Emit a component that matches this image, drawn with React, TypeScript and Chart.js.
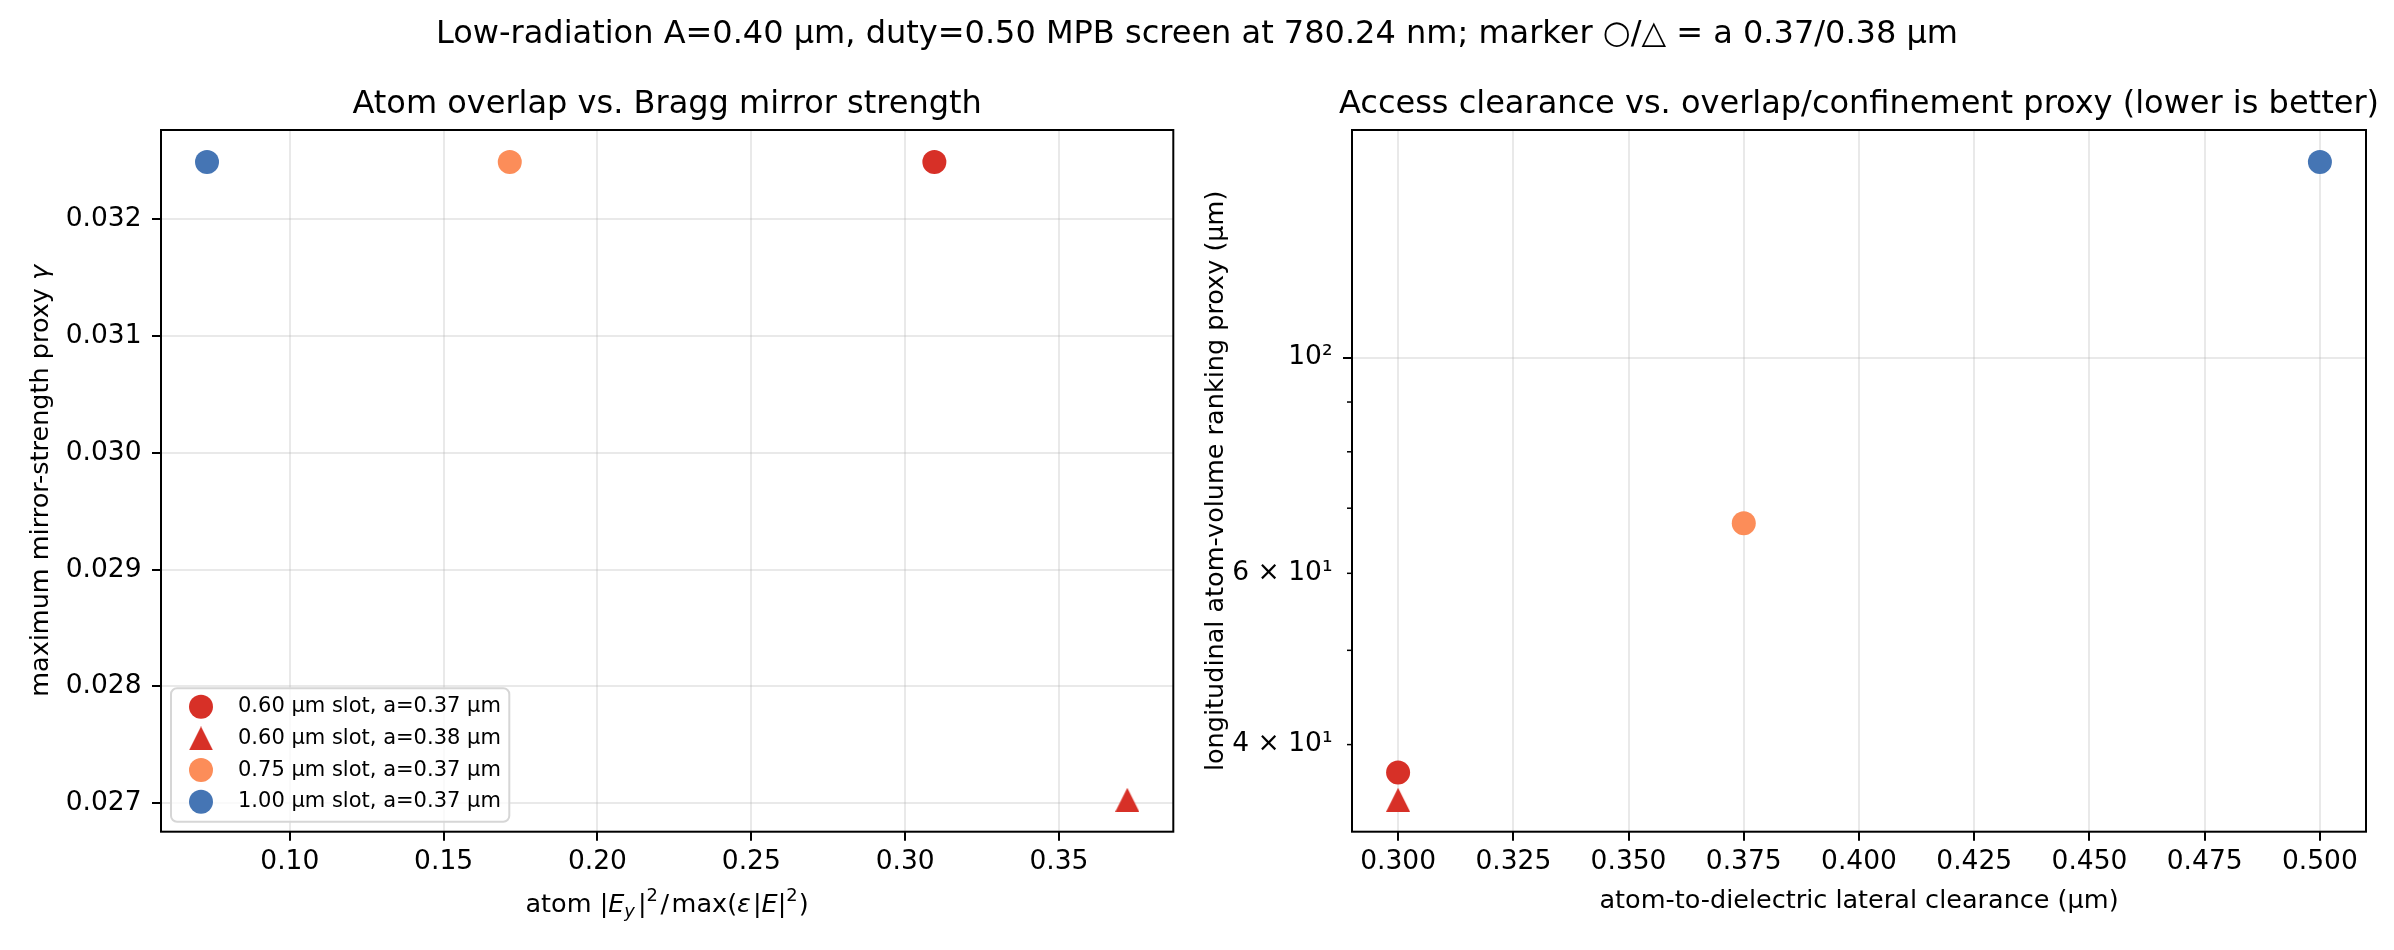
import React, { useEffect, useRef } from 'react';
import { Chart, registerables } from 'chart.js';

Chart.register(...registerables);

const FONT = "'DejaVu Sans', 'Noto Sans', sans-serif";

// ---------------- data ----------------
const seriesLabels = [
  '0.60 µm slot, a=0.37 µm',
  '0.60 µm slot, a=0.38 µm',
  '0.75 µm slot, a=0.37 µm',
  '1.00 µm slot, a=0.37 µm',
];
const seriesMarkers = ['circle', 'triangle', 'circle', 'circle'];

// left panel
const atomOverlap = [0.3095, 0.3722, 0.1715, 0.0731];
const mirrorStrength = [0.03249, 0.02703, 0.03249, 0.03249];

// right panel
const lateralClearance = [0.3, 0.3, 0.375, 0.5];
const volumeProxy = [37.45, 35.1, 67.55, 158.9];

// ticks
const overlapTicks = [0.1, 0.15, 0.2, 0.25, 0.3, 0.35];
const mirrorTicks = [0.027, 0.028, 0.029, 0.03, 0.031, 0.032];
const clearanceTicks = [0.3, 0.325, 0.35, 0.375, 0.4, 0.425, 0.45, 0.475, 0.5];
const volumeMajorTicks = [100];
const volumeMinorTicks = [40, 50, 60, 70, 80, 90];
const volumeTickLabels: Record<number, string> = { 40: '4 × 10¹', 60: '6 × 10¹', 100: '10²' };

// ---------------- styles ----------------
const seriesColors = ['#d73027', '#d73027', '#fc8d59', '#4575b4'];
const GRID = 'rgba(176,176,176,0.28)';
const TICK_SIZE = 26.5;
const LABEL_SIZE = 25.5;
const TITLE_SIZE = 32;
const LEGEND_SIZE = 21;
const MARKER = 24;

function linPad(vals: number[]): [number, number] {
  const lo = Math.min(...vals);
  const hi = Math.max(...vals);
  const d = (hi - lo) * 0.05;
  return [lo - d, hi + d];
}
function logPad(vals: number[]): [number, number] {
  const l = vals.map((v) => Math.log10(v));
  const lo = Math.min(...l);
  const hi = Math.max(...l);
  const d = (hi - lo) * 0.05;
  return [Math.pow(10, lo - d), Math.pow(10, hi + d)];
}

const triCache: Record<string, HTMLCanvasElement> = {};
function triangleImage(color: string): HTMLCanvasElement {
  if (triCache[color]) return triCache[color];
  const c = document.createElement('canvas');
  c.width = MARKER;
  c.height = MARKER;
  const g = c.getContext('2d')!;
  g.fillStyle = color;
  g.beginPath();
  g.moveTo(MARKER / 2, 0);
  g.lineTo(MARKER, MARKER);
  g.lineTo(0, MARKER);
  g.closePath();
  g.fill();
  triCache[color] = c;
  return c;
}

type Seg = { t: string; it?: boolean; s?: number; dy?: number; gap?: number };
function segFont(sg: Seg, size: number) {
  return `${sg.it ? 'italic ' : ''}${(size * (sg.s ?? 1)).toFixed(2)}px ${FONT}`;
}
function drawRich(ctx: CanvasRenderingContext2D, segs: Seg[], x: number, y: number, size: number, align = 'center') {
  ctx.save();
  ctx.textBaseline = 'alphabetic';
  ctx.textAlign = 'left';
  ctx.fillStyle = '#000';
  const ws = segs.map((sg) => {
    ctx.font = segFont(sg, size);
    return ctx.measureText(sg.t).width + (sg.gap ?? 0) * size;
  });
  const total = ws.reduce((a, b) => a + b, 0);
  let cx = align === 'center' ? x - total / 2 : align === 'right' ? x - total : x;
  segs.forEach((sg, i) => {
    ctx.font = segFont(sg, size);
    ctx.fillText(sg.t, cx, y + (sg.dy ?? 0) * size);
    cx += ws[i];
  });
  ctx.restore();
}
function drawRotated(ctx: CanvasRenderingContext2D, segs: Seg[], x: number, cy: number, size: number) {
  ctx.save();
  ctx.translate(x, cy);
  ctx.rotate(-Math.PI / 2);
  drawRich(ctx, segs, 0, 0, size, 'center');
  ctx.restore();
}

function makeDatasets(xs: number[], ys: number[]) {
  return seriesLabels.map((label, i) => ({
    label,
    data: [{ x: xs[i], y: ys[i] }],
    pointStyle: seriesMarkers[i] === 'triangle' ? triangleImage(seriesColors[i]) : 'circle',
    pointRadius: MARKER / 2,
    backgroundColor: seriesColors[i],
    borderColor: seriesColors[i],
    pointBorderWidth: 0,
    borderWidth: 0,
    showLine: false,
  }));
}

const framePlugin = {
  id: 'frame',
  afterDatasetsDraw(chart: any) {
    const { ctx, chartArea: a } = chart;
    ctx.save();
    ctx.strokeStyle = '#000';
    ctx.lineWidth = 2;
    ctx.strokeRect(a.left, a.top, a.right - a.left, a.bottom - a.top);
    ctx.restore();
  },
};

const leftDecor = {
  id: 'leftDecor',
  afterDraw(chart: any) {
    const { ctx, chartArea: a } = chart;
    const cx = (a.left + a.right) / 2;
    // suptitle
    drawRich(
      ctx,
      [{ t: 'Low-radiation A=0.40 µm, duty=0.50 MPB screen at 780.24 nm; marker ○/△ = a 0.37/0.38 µm' }],
      1197,
      43.3,
      TITLE_SIZE,
    );
    drawRich(ctx, [{ t: 'Atom overlap vs. Bragg mirror strength' }], cx, 113.3, TITLE_SIZE);
    drawRich(
      ctx,
      [
        { t: 'atom ' },
        { t: '|' },
        { t: 'E', it: true },
        { t: 'y', it: true, s: 0.7, dy: 0.2, gap: 0.12 },
        { t: '|' },
        { t: '2', s: 0.7, dy: -0.42, gap: 0.1 },
        { t: '/', gap: 0.1 },
        { t: 'max(' },
        { t: 'ε', it: true, gap: 0.08 },
        { t: '|' },
        { t: 'E', it: true },
        { t: '|' },
        { t: '2', s: 0.7, dy: -0.42, gap: 0.05 },
        { t: ')' },
      ],
      cx,
      911.5,
      LABEL_SIZE,
    );
    drawRotated(
      ctx,
      [{ t: 'maximum mirror-strength proxy ' }, { t: 'γ', it: true }],
      48,
      (a.top + a.bottom) / 2,
      LABEL_SIZE,
    );
    // legend
    const lg = { x: 171, y: 688.3, w: 338.3, h: 133.4, r: 6, mx: 201, tx: 238, ry: 706.7, dy: 31.7 };
    ctx.save();
    ctx.beginPath();
    ctx.roundRect(lg.x, lg.y, lg.w, lg.h, lg.r);
    ctx.fillStyle = 'rgba(255,255,255,0.8)';
    ctx.fill();
    ctx.strokeStyle = '#d6d6d6';
    ctx.lineWidth = 2;
    ctx.stroke();
    seriesLabels.forEach((label, i) => {
      const y = lg.ry + i * lg.dy;
      if (seriesMarkers[i] === 'triangle') {
        ctx.drawImage(triangleImage(seriesColors[i]), lg.mx - MARKER / 2, y - MARKER / 2);
      } else {
        ctx.beginPath();
        ctx.arc(lg.mx, y, MARKER / 2, 0, Math.PI * 2);
        ctx.fillStyle = seriesColors[i];
        ctx.fill();
      }
      ctx.fillStyle = '#000';
      ctx.font = `${LEGEND_SIZE}px ${FONT}`;
      ctx.textAlign = 'left';
      ctx.textBaseline = 'middle';
      ctx.fillText(label, lg.tx, y);
    });
    ctx.restore();
  },
};

const rightDecor = {
  id: 'rightDecor',
  afterDraw(chart: any) {
    const { ctx, chartArea: a } = chart;
    const cx = (a.left + a.right) / 2;
    drawRich(ctx, [{ t: 'Access clearance vs. overlap/confinement proxy (lower is better)' }], cx, 113.3, TITLE_SIZE);
    drawRich(ctx, [{ t: 'atom-to-dielectric lateral clearance (µm)' }], cx, 908, LABEL_SIZE);
    drawRotated(ctx, [{ t: 'longitudinal atom-volume ranking proxy (µm)' }], 1222.5, (a.top + a.bottom) / 2, LABEL_SIZE);
    // minor ticks of the log axis
    const ys = chart.scales.y;
    ctx.save();
    ctx.strokeStyle = '#000';
    ctx.lineWidth = 1.5;
    volumeMinorTicks.forEach((v) => {
      const py = ys.getPixelForValue(v);
      ctx.beginPath();
      ctx.moveTo(a.left, py);
      ctx.lineTo(a.left - 5, py);
      ctx.stroke();
    });
    ctx.restore();
  },
};

const tickFont = { family: FONT, size: TICK_SIZE, lineHeight: 1.2 };

export default function App() {
  const leftRef = useRef<HTMLCanvasElement>(null);
  const rightRef = useRef<HTMLCanvasElement>(null);

  useEffect(() => {
    document.body.style.margin = '0';
    const [lx0, lx1] = linPad(atomOverlap);
    const [ly0, ly1] = linPad(mirrorStrength);
    const [rx0, rx1] = linPad(lateralClearance);
    const [ry0, ry1] = logPad(volumeProxy);

    const left = new Chart(leftRef.current!, {
      type: 'scatter',
      data: { datasets: makeDatasets(atomOverlap, mirrorStrength) as any },
      options: {
        animation: false,
        responsive: false,
        devicePixelRatio: 1,
        events: [],
        layout: { padding: { left: 0, top: 130, right: 2394 - 1173.3, bottom: 0 } },
        plugins: { legend: { display: false }, tooltip: { enabled: false }, title: { display: false } },
        scales: {
          x: {
            type: 'linear',
            min: lx0,
            max: lx1,
            bounds: 'data',
            afterBuildTicks: (s: any) => {
              s.ticks = overlapTicks.map((v) => ({ value: v }));
            },
            afterFit: (s: any) => {
              s.height = 950 - 831.7;
            },
            ticks: {
              callback: (v: any) => Number(v).toFixed(2),
              font: tickFont,
              color: '#000',
              padding: 5.7,
              maxRotation: 0,
              autoSkip: false,
            },
            grid: { color: GRID, lineWidth: 2, tickColor: '#000', tickWidth: 2, tickLength: 9 },
            border: { display: false },
          },
          y: {
            type: 'linear',
            min: ly0,
            max: ly1,
            bounds: 'data',
            afterBuildTicks: (s: any) => {
              s.ticks = mirrorTicks.map((v) => ({ value: v }));
            },
            afterFit: (s: any) => {
              s.width = 161;
            },
            ticks: {
              callback: (v: any) => Number(v).toFixed(3),
              font: tickFont,
              color: '#000',
              padding: 10.5,
              autoSkip: false,
            },
            grid: { color: GRID, lineWidth: 2, tickColor: '#000', tickWidth: 2, tickLength: 9 },
            border: { display: false },
          },
        },
      },
      plugins: [framePlugin, leftDecor],
    } as any);

    const right = new Chart(rightRef.current!, {
      type: 'scatter',
      data: { datasets: makeDatasets(lateralClearance, volumeProxy) as any },
      options: {
        animation: false,
        responsive: false,
        devicePixelRatio: 1,
        events: [],
        layout: { padding: { left: 1190, top: 130, right: 2394 - 2366, bottom: 0 } },
        plugins: { legend: { display: false }, tooltip: { enabled: false }, title: { display: false } },
        scales: {
          x: {
            type: 'linear',
            min: rx0,
            max: rx1,
            bounds: 'data',
            afterBuildTicks: (s: any) => {
              s.ticks = clearanceTicks.map((v) => ({ value: v }));
            },
            afterFit: (s: any) => {
              s.height = 950 - 831.7;
            },
            ticks: {
              callback: (v: any) => Number(v).toFixed(3),
              font: tickFont,
              color: '#000',
              padding: 5.7,
              maxRotation: 0,
              autoSkip: false,
            },
            grid: { color: GRID, lineWidth: 2, tickColor: '#000', tickWidth: 2, tickLength: 9 },
            border: { display: false },
          },
          y: {
            type: 'logarithmic',
            min: ry0,
            max: ry1,
            bounds: 'data',
            afterBuildTicks: (s: any) => {
              s.ticks = [...volumeMinorTicks, ...volumeMajorTicks].map((v) => ({ value: v }));
            },
            afterFit: (s: any) => {
              s.width = 1352 - 1190;
            },
            ticks: {
              callback: (v: any) => volumeTickLabels[Number(v)] ?? '',
              font: tickFont,
              color: '#000',
              padding: 10.5,
              autoSkip: false,
            },
            grid: {
              color: (c: any) => (c.tick && volumeMajorTicks.includes(c.tick.value) ? GRID : 'rgba(0,0,0,0)'),
              lineWidth: 2,
              tickColor: (c: any) => (c.tick && volumeMajorTicks.includes(c.tick.value) ? '#000' : 'rgba(0,0,0,0)'),
              tickWidth: 2,
              tickLength: 9,
            },
            border: { display: false },
          },
        },
      },
      plugins: [framePlugin, rightDecor],
    } as any);

    return () => {
      left.destroy();
      right.destroy();
    };
  }, []);

  return (
    <div style={{ position: 'relative', width: 2394, height: 950, background: '#ffffff' }}>
      <canvas
        ref={leftRef}
        width={2394}
        height={950}
        style={{ position: 'absolute', left: 0, top: 0, width: 2394, height: 950 }}
      />
      <canvas
        ref={rightRef}
        width={2394}
        height={950}
        style={{ position: 'absolute', left: 0, top: 0, width: 2394, height: 950 }}
      />
    </div>
  );
}
